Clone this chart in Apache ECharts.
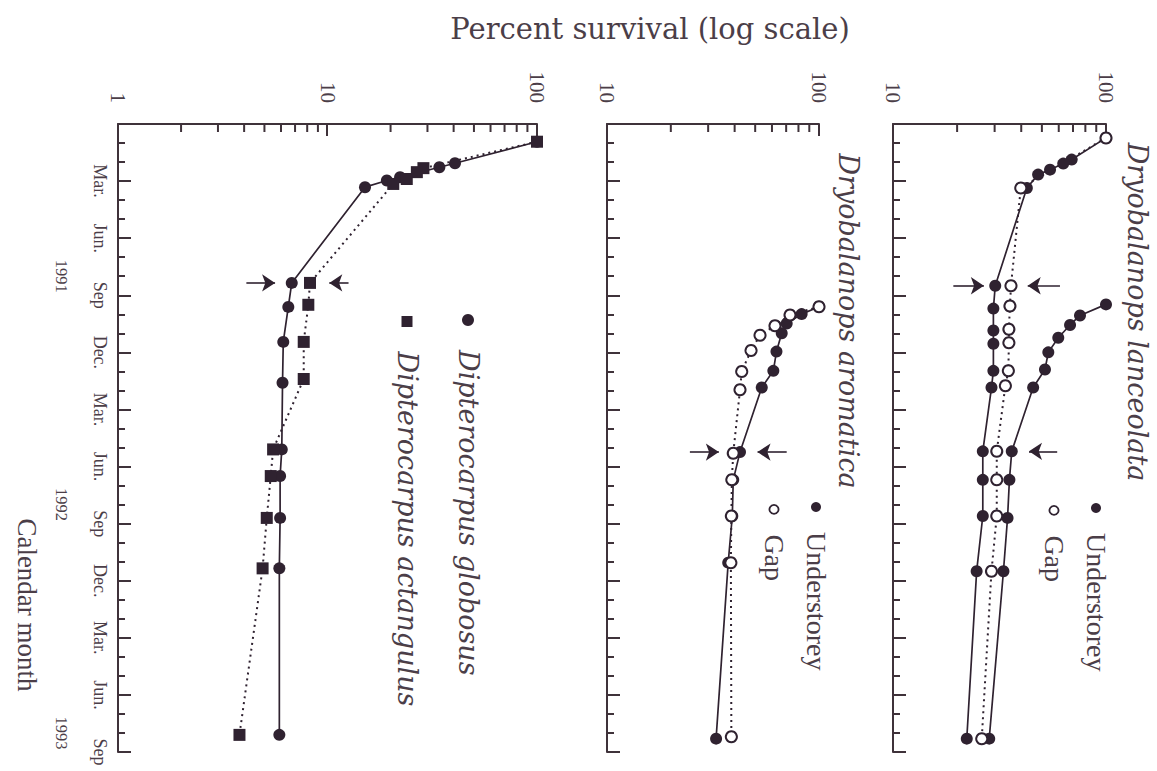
<!DOCTYPE html>
<html>
<head>
<meta charset="utf-8">
<title>Seedling survival</title>
<script src="https://cdn.jsdelivr.net/npm/echarts@6/dist/echarts.min.js"></script>
<style>
  html, body { margin: 0; padding: 0; width: 1157px; height: 771px; overflow: hidden; background: #fff; }
  /* The figure is laid out in portrait and turned a quarter clockwise onto the landscape page. */
  #chart { position: absolute; left: 0; top: 0; width: 771px; height: 1157px;
           transform-origin: 0 0; transform: translateX(1157px) rotate(90deg); }
</style>
</head>
<body>
<div id="chart"></div>
<script>
// Time is counted in months from December 1990 (0) to September 1993 (33).
const monthNames = ['Dec.', 'Jan.', 'Feb.', 'Mar.', 'Apr.', 'May', 'Jun.', 'Jul.', 'Aug.', 'Sep', 'Oct.', 'Nov.'];
const yearLabels = ['1991', '1992', '1993'];

// Dryobalanops lanceolata: two understorey cohorts and one gap cohort (percent survival)
const lanUnder1Month = [0.73, 1.87, 2.08, 2.4, 2.66, 3.36, 8.5, 9.7, 10.85, 11.55, 12.97, 13.85, 17.2, 18.7, 20.6, 23.5, 32.3];
const lanUnder1Value = [100, 69, 63, 54.6, 48, 42.5, 30.2, 29.6, 29.6, 29.6, 29.6, 29, 26.4, 26.4, 26.4, 24.7, 22.2];
const lanUnder2Month = [9.48, 10.06, 10.56, 11.23, 12.0, 12.9, 13.85, 17.2, 18.7, 20.7, 23.5, 32.3];
const lanUnder2Value = [100, 75.5, 67.8, 59.7, 53.6, 51.7, 45.5, 36.1, 35.2, 34.5, 33, 28.3];
const lanGapMonth = [0.73, 3.36, 8.5, 9.57, 10.79, 11.5, 12.97, 13.75, 17.2, 18.7, 20.6, 23.5, 32.3];
const lanGapValue = [100, 39.8, 35.8, 35.4, 35, 35, 34.8, 33.7, 30.7, 30.7, 30.7, 29, 26.1];

// Dryobalanops aromatica
const aroUnderMonth = [9.6, 9.99, 10.48, 11.0, 11.96, 12.97, 13.85, 17.24, 18.7, 20.6, 23.05, 32.3];
const aroUnderValue = [100, 82.8, 70.4, 66.7, 63, 60.9, 53.7, 42.4, 39.4, 39, 37.3, 32.7];
const aroGapMonth = [9.6, 10.04, 10.6, 11.1, 11.9, 13.0, 13.97, 17.3, 18.7, 20.6, 23.05, 32.2];
const aroGapValue = [100, 73, 62, 52.7, 47.8, 43.2, 42.4, 39.4, 38.8, 38.6, 38.4, 38.6];

// Dipterocarpus globosus and D. actangulus
const dglMonth = [0.93, 2.06, 2.27, 2.8, 2.97, 3.32, 8.35, 9.61, 11.45, 13.6, 17.1, 18.5, 20.7, 23.35, 32.1];
const dglValue = [100, 40.6, 34.2, 22.2, 19.2, 15.1, 6.75, 6.5, 6.15, 6.1, 6.05, 5.94, 5.94, 5.89, 5.89];
const dacMonth = [0.93, 2.32, 2.53, 2.89, 3.15, 8.35, 9.5, 11.45, 13.4, 17.1, 18.5, 20.7, 23.35, 32.1];
const dacValue = [100, 28.7, 26.7, 23.9, 20.6, 8.25, 8.1, 7.7, 7.7, 5.5, 5.36, 5.13, 4.9, 3.8];

// Arrows marking the reference census: [month, tail value, head value]
const lanArrows = [[8.5, 19.2, 26.7], [8.5, 60.8, 42.9], [17.2, 59, 43.5]];
const aroArrows = [[17.24, 24.6, 33.7], [17.24, 70.4, 51.3]];
const dipArrows = [[8.35, 4.1, 5.62], [8.35, 12.6, 10.2]];

// Lower bound of each panel's log axis (upper bound is 100 %)
const logMins = [10, 10, 1];

const INK = '#2f2230';
const AXIS = '#3f323a';
const TEXT = '#4b3e48';
const SERIF = '"Liberation Serif", "DejaVu Serif", serif';
const WIDE_SERIF = '"DejaVu Serif", serif';
const AXIS_W = 2;

const grids = [
  { left: 124, right: 19, top: 51, height: 213 },
  { left: 124, right: 19, top: 338, height: 212 },
  { left: 124, right: 19, top: 620, height: 419 }
];

function timeAxis(i) {
  return {
    type: 'value', gridIndex: i, min: 0, max: 33, interval: 3, position: 'bottom',
    axisLine: { show: true, onZero: false, lineStyle: { color: AXIS, width: AXIS_W } },
    axisTick: { show: true, inside: true, length: 13, lineStyle: { color: AXIS, width: AXIS_W } },
    minorTick: { show: true, splitNumber: 3, length: 7, lineStyle: { color: AXIS, width: AXIS_W } },
    splitLine: { show: false }, minorSplitLine: { show: false },
    axisLabel: {
      show: i === 2, margin: 9, fontSize: 18, fontFamily: SERIF, color: TEXT,
      showMinLabel: false,
      formatter: v => (v === 0 ? '' : monthNames[Math.round(v) % 12])
    }
  };
}

// Year captions sit under August of each year
const yearAxis = {
  type: 'value', gridIndex: 2, min: 0, max: 33, position: 'bottom',
  axisLine: { show: false }, axisTick: { show: false }, splitLine: { show: false },
  axisLabel: {
    margin: 48, fontSize: 16.5, fontFamily: SERIF, color: TEXT,
    customValues: yearLabels.map((y, i) => 8 + 12 * i),
    formatter: v => yearLabels[Math.round((v - 8) / 12)] || ''
  }
};

function logAxis(i) {
  return {
    type: 'log', logBase: 10, gridIndex: i, min: logMins[i], max: 100, position: 'left',
    axisLine: { show: true, onZero: false, lineStyle: { color: AXIS, width: AXIS_W } },
    axisTick: { show: true, inside: true, length: 12, lineStyle: { color: AXIS, width: AXIS_W } },
    axisLabel: { margin: 21, fontSize: 21, fontFamily: SERIF, color: TEXT },
    splitLine: { show: false }
  };
}

// Short ticks at 2..9 of every decade along each log axis, drawn as thin bars from the axis line
function minorLogTicks(i) {
  const data = [];
  for (let d = logMins[i]; d < 100; d *= 10) {
    for (let k = 2; k <= 9; k++) data.push([0, k * d]);
  }
  return {
    type: 'scatter', xAxisIndex: i, yAxisIndex: i, silent: true, animation: false,
    clip: false, z: 3, legendHoverLink: false, emphasis: { disabled: true },
    symbol: 'rect', symbolSize: [8, AXIS_W], symbolOffset: [4, 0],
    itemStyle: { color: AXIS, opacity: 1 },
    data
  };
}

function pts(months, values) { return months.map((m, i) => [m, values[i]]); }

function arrowMarks(list) {
  return {
    silent: true, animation: false,
    symbol: ['none', 'arrow'], symbolSize: 13,
    label: { show: false }, emphasis: { disabled: true },
    lineStyle: { color: INK, width: 1.6, type: 'solid' },
    data: list.map(a => [{ coord: [a[0], a[1]] }, { coord: [a[0], a[2]] }])
  };
}

const solidLine = { color: INK, width: 1.7, type: 'solid' };
const dottedLine = { color: INK, width: 2, type: [2, 4] };
const filled = { color: INK, borderWidth: 0 };
const hollow = { color: '#ffffff', borderColor: INK, borderWidth: 2 };

function series(name, gi, data, line, style, symbol, size, arrows) {
  const s = {
    type: 'line', name, xAxisIndex: gi, yAxisIndex: gi, data,
    symbol, symbolSize: size, showAllSymbol: true,
    lineStyle: line, itemStyle: style, emphasis: { disabled: true },
    animation: false
  };
  if (arrows) s.markLine = arrowMarks(arrows);
  return s;
}

function legendRow(name, icon, style, left, centerY, size, font, italic, iconW) {
  return {
    show: true, orient: 'horizontal', left, top: centerY - font / 2, padding: 0,
    selectedMode: false, itemWidth: iconW, itemHeight: size,
    data: [{ name, icon, itemStyle: style }],
    textStyle: { fontFamily: italic ? WIDE_SERIF : SERIF, fontSize: font, color: TEXT, fontStyle: italic ? 'italic' : 'normal' }
  };
}

function label(text, x, y, font, rotation) {
  return {
    type: 'text', x, y, rotation: rotation || 0, silent: true,
    style: { text, font, fill: TEXT, align: 'center', verticalAlign: 'middle', textAlign: 'center', textVerticalAlign: 'middle' }
  };
}

const openIcon = { color: '#fff', borderColor: INK, borderWidth: 1.8 };

const chart = echarts.init(document.getElementById('chart'), null, { renderer: 'svg' });
chart.setOption({
  animation: false,
  backgroundColor: '#ffffff',
  grid: grids,
  xAxis: [timeAxis(0), timeAxis(1), timeAxis(2), yearAxis],
  yAxis: [logAxis(0), logAxis(1), logAxis(2)],
  legend: [
    legendRow('Understorey', 'circle', filled, 503, 61, 10, 28, false, 40),
    legendRow('Gap', 'circle', openIcon, 505, 103, 9, 28, false, 40),
    legendRow('Understorey', 'circle', filled, 502, 341, 10, 28, false, 40),
    legendRow('Gap', 'circle', openIcon, 504, 383, 9, 28, false, 40),
    legendRow('Dipterocarpus globosus', 'circle', filled, 314, 689, 12, 27, true, 50),
    legendRow('Dipterocarpus actangulus', 'path://M0,0H10V10H0Z', filled, 316, 750, 11, 27, true, 50)
  ],
  graphic: [
    label('Dryobalanops lanceolata', 312, 20, 'italic 27px "DejaVu Serif"'),
    label('Dryobalanops aromatica', 321, 309, 'italic 27px "DejaVu Serif"'),
    label('Percent survival (log scale)', 29, 507, '29px "DejaVu Serif"', Math.PI / 2),
    label('Calendar month', 605, 1130, '27px "Liberation Serif"')
  ],
  series: [
    minorLogTicks(0), minorLogTicks(1), minorLogTicks(2),
    series('Understorey', 0, pts(lanUnder1Month, lanUnder1Value), solidLine, filled, 'circle', 12, lanArrows),
    series('Understorey', 0, pts(lanUnder2Month, lanUnder2Value), solidLine, filled, 'circle', 12),
    series('Gap', 0, pts(lanGapMonth, lanGapValue), dottedLine, hollow, 'circle', 11),
    series('Understorey', 1, pts(aroUnderMonth, aroUnderValue), solidLine, filled, 'circle', 12, aroArrows),
    series('Gap', 1, pts(aroGapMonth, aroGapValue), dottedLine, hollow, 'circle', 11),
    series('Dipterocarpus globosus', 2, pts(dglMonth, dglValue), solidLine, filled, 'circle', 12, dipArrows),
    series('Dipterocarpus actangulus', 2, pts(dacMonth, dacValue), dottedLine, filled, 'rect', 12)
  ]
});
</script>
</body>
</html>
